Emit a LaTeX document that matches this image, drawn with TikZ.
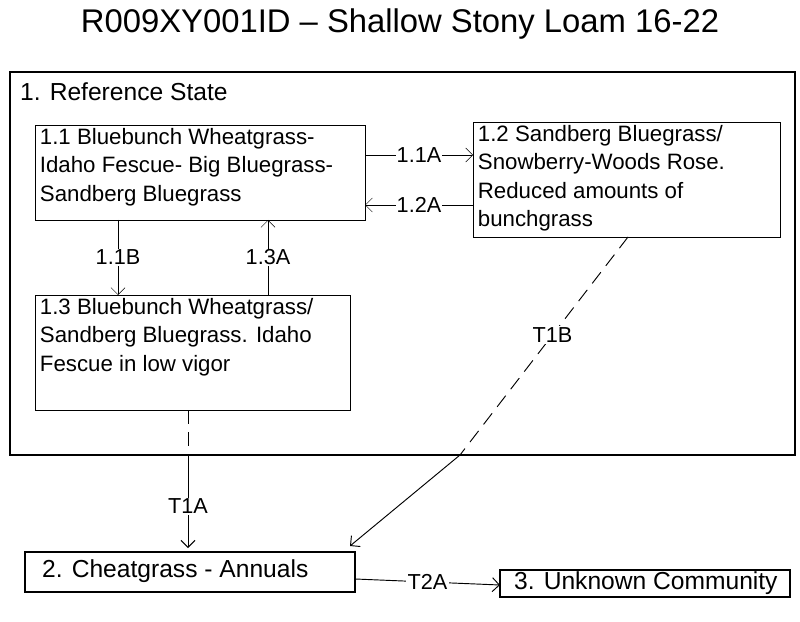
\documentclass[tikz,border=0pt]{standalone}
\usepackage{fontspec}
\setmainfont{Liberation Sans}
\usetikzlibrary{arrows.meta}
\begin{document}
\begin{tikzpicture}[x=0.03cm,y=-0.03cm,
	phase/.style={anchor=north west, align=left, inner xsep=4pt, inner ysep=3pt, font=\fontsize{19}{24}\selectfont},
	statebox/.style={draw, line width=1.8pt},
	statetext/.style={anchor=west, font=\fontsize{21}{25}\selectfont},
	tr/.style={->, >={Straight Barb[length=6pt]}},
	dsh/.style={thick, dash pattern=on 12pt off 7pt},
	lbl/.style={fill=white, inner sep=1pt, font=\fontsize{18.5}{22}\selectfont}]
	\useasboundingbox (0,0) rectangle (800,622);
	\node (title) at (400,24) {\fontsize{28}{32}\selectfont R009XY001ID – Shallow Stony Loam 16-22};

	% reference state
	\draw [statebox, line width=2.2pt] (10,72) rectangle (795,455);
	\node [statetext] (rs) at (16,92) {1. Reference State};
	\draw (35,125) rectangle (365,220);
	\node [phase] (p11) at (35,125) {1.1 Bluebunch Wheatgrass-\\Idaho Fescue- Big Bluegrass-\\Sandberg Bluegrass};
	\draw (473,122) rectangle (780,237);
	\node [phase] (p12) at (473,122) {1.2 Sandberg Bluegrass/\\Snowberry-Woods Rose.\\Reduced amounts of\\bunchgrass};
	\draw (35,295) rectangle (350,410);
	\node [phase] (p13) at (35,295) {1.3 Bluebunch Wheatgrass/\\Sandberg Bluegrass. Idaho\\Fescue in low vigor};

	\coordinate (a1) at (365,155); \coordinate (a2) at (473,155);
	\coordinate (b1) at (473,205); \coordinate (b2) at (365,205);
	\coordinate (c1) at (118,220); \coordinate (c2) at (118,295);
	\coordinate (d1) at (268,295); \coordinate (d2) at (268,220);
	\draw [tr] (a1) -- node[lbl] {1.1A} (a2);
	\draw [tr] (b1) -- node[lbl] {1.2A} (b2);
	\draw [tr] (c1) -- node[lbl] {1.1B} (c2);
	\draw [tr] (d1) -- node[lbl] {1.3A} (d2);

	% states 2 and 3
	\draw [statebox] (25,552) rectangle (355,592);
	\node [statetext] (s2) at (38,571) {2. Cheatgrass - Annuals};
	\draw [statebox] (500,570) rectangle (790,597);
	\node [statetext] (s3) at (510,583) {3. Unknown Community};

	% transitions
	\coordinate (t1) at (188,410); \coordinate (t1m) at (188,455); \coordinate (t1e) at (188,548);
	\draw [dsh] (t1) -- (t1m);
	\draw [tr, thick] (t1m) -- node[lbl, pos=0.55] {T1A} (t1e);
	\coordinate (u1) at (628,237); \coordinate (u1m) at (460,455); \coordinate (u1e) at (350,546);
	\draw [dsh] (u1) -- node[lbl, pos=0.45] {T1B} (u1m);
	\draw [tr, thick] (u1m) -- (u1e);
	\coordinate (v1) at (355,579); \coordinate (v2) at (500,585);
	\draw [tr, thick] (v1) -- node[lbl] {T2A} (v2);
\end{tikzpicture}
\end{document}
